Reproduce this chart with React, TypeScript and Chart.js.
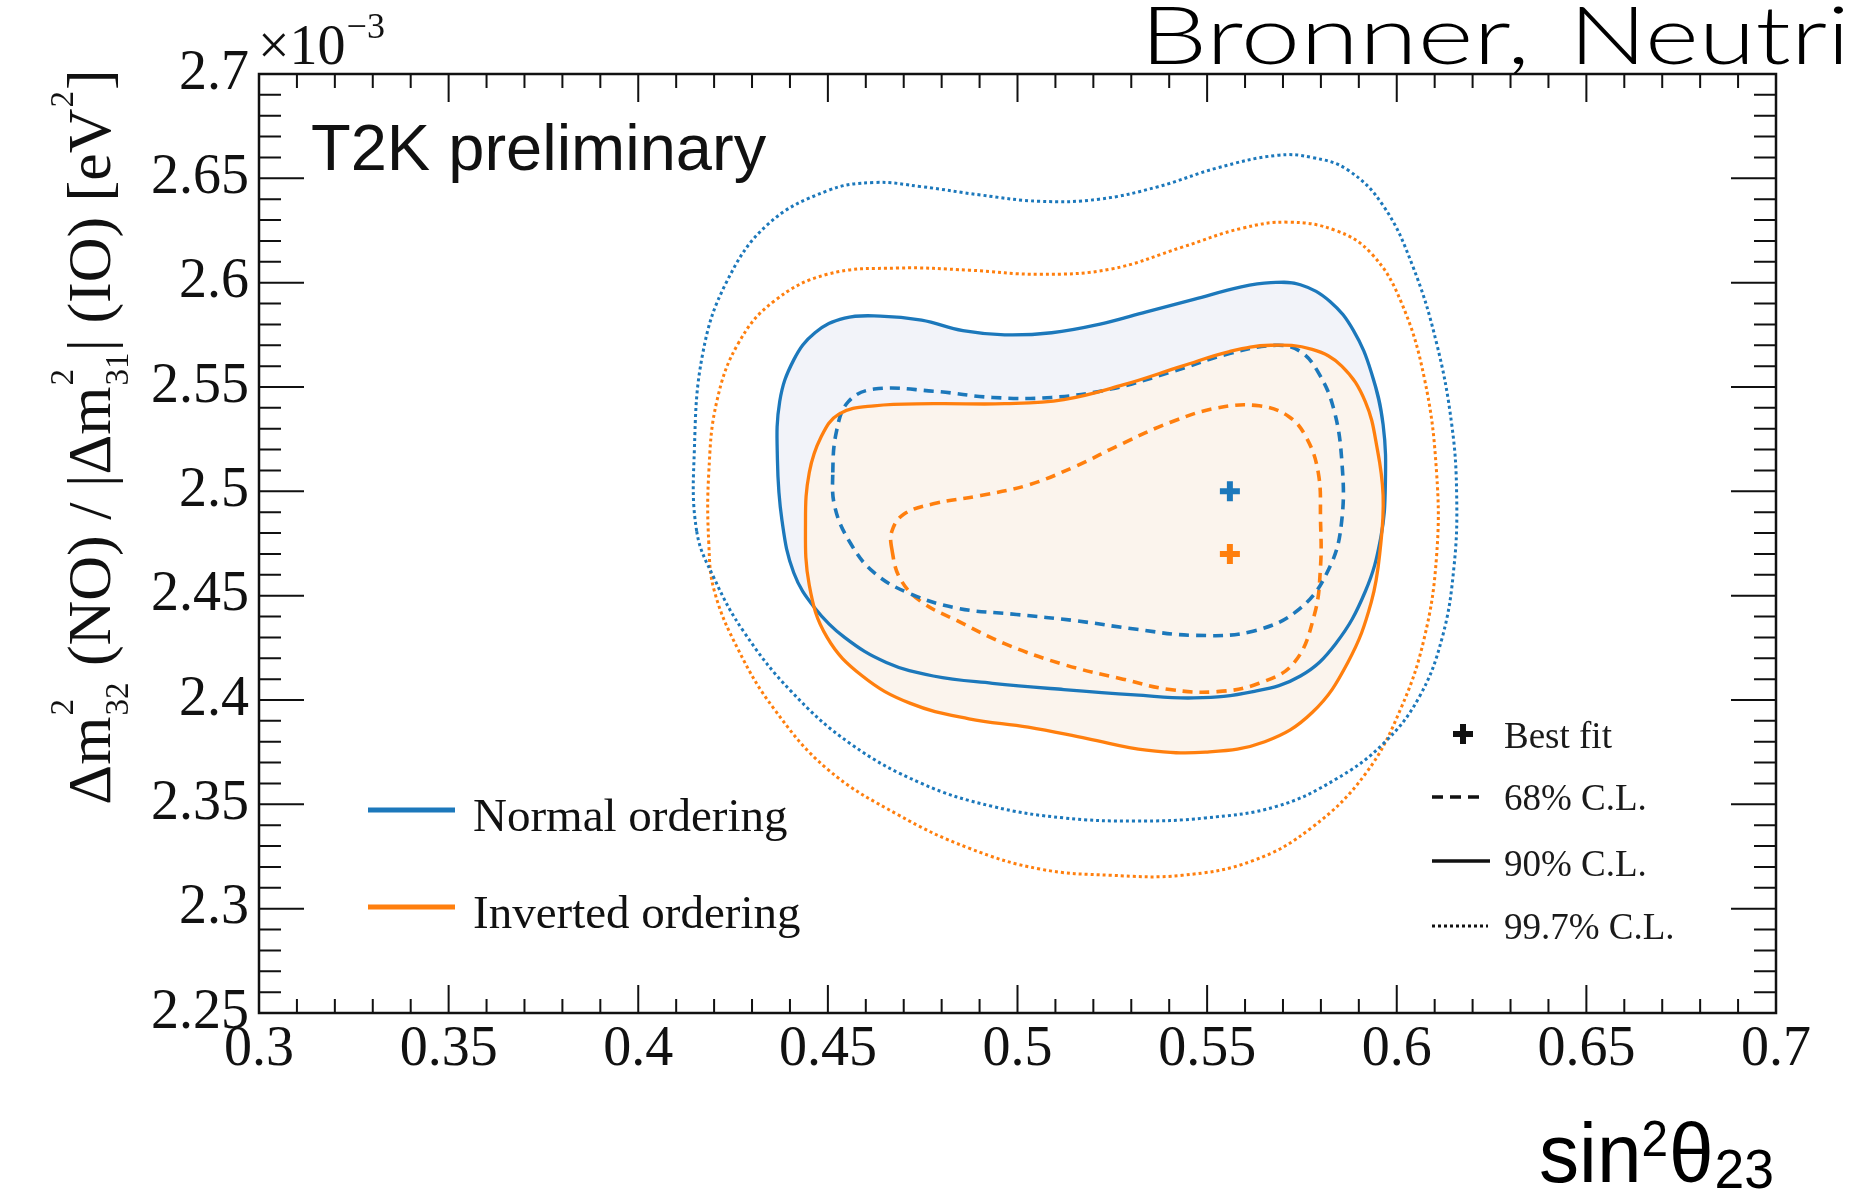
import React, { useEffect, useRef } from 'react';
import { Chart, registerables } from 'chart.js';

Chart.register(...registerables);

const W = 1854;
const H = 1194;
const BLUE = '#1c78bb';
const ORANGE = '#ff7f0e';
const BLUE_FILL = '#f2f3f9';
const ORANGE_FILL = '#fbf4ed';
const INK = '#111111';

// Axis ranges and tick labels (y in units of 1e-3 eV^2)
const X_MIN = 0.3;
const X_MAX = 0.7;
const Y_MIN = 2.25;
const Y_MAX = 2.7;
const X_TICKS = [0.3, 0.35, 0.4, 0.45, 0.5, 0.55, 0.6, 0.65, 0.7];
const X_TICK_LABELS = ['0.3', '0.35', '0.4', '0.45', '0.5', '0.55', '0.6', '0.65', '0.7'];
const Y_TICKS = [2.25, 2.3, 2.35, 2.4, 2.45, 2.5, 2.55, 2.6, 2.65, 2.7];
const Y_TICK_LABELS = ['2.25', '2.3', '2.35', '2.4', '2.45', '2.5', '2.55', '2.6', '2.65', '2.7'];
const X_MINOR_STEP = 0.01;
const Y_MINOR_STEP = 0.01;

// Normal ordering, 99.7% C.L.
const NO_997_X = [0.4154, 0.4148, 0.4170, 0.4232, 0.4342, 0.4498, 0.4622, 0.4747, 0.4903, 0.5059, 0.5215, 0.5371, 0.5527, 0.5683, 0.5777, 0.5871, 0.5964, 0.6042, 0.6105, 0.6145, 0.6158, 0.6151, 0.6120, 0.6058, 0.5964, 0.5839, 0.5683, 0.5496, 0.5309, 0.5122, 0.4934, 0.4747, 0.4560, 0.4404, 0.4279, 0.4201];
const NO_997_Y = [2.481, 2.520, 2.566, 2.600, 2.628, 2.644, 2.648, 2.646, 2.642, 2.639, 2.640, 2.646, 2.655, 2.661, 2.660, 2.654, 2.637, 2.608, 2.571, 2.532, 2.498, 2.464, 2.430, 2.401, 2.379, 2.362, 2.349, 2.3435, 2.342, 2.3435, 2.349, 2.360, 2.379, 2.404, 2.4325, 2.458];

// Inverted ordering, 99.7% C.L.
const IO_997_X = [0.4186, 0.4186, 0.4207, 0.4264, 0.4357, 0.4498, 0.4685, 0.4872, 0.5059, 0.5246, 0.5434, 0.5590, 0.5714, 0.5839, 0.5933, 0.6011, 0.6073, 0.6105, 0.6105, 0.6073, 0.6011, 0.5917, 0.5777, 0.5621, 0.5434, 0.5246, 0.5059, 0.4872, 0.4685, 0.4498, 0.4357, 0.4264, 0.4201];
const IO_997_Y = [2.475, 2.509, 2.543, 2.571, 2.591, 2.604, 2.607, 2.606, 2.604, 2.6065, 2.617, 2.626, 2.629, 2.625, 2.614, 2.591, 2.554, 2.509, 2.469, 2.430, 2.396, 2.3645, 2.339, 2.323, 2.316, 2.316, 2.319, 2.329, 2.345, 2.367, 2.396, 2.424, 2.452];

// Normal ordering, 90% C.L.
const NO_90_X = [0.4367, 0.4373, 0.4410, 0.4466, 0.4544, 0.4638, 0.4747, 0.4856, 0.4966, 0.5090, 0.5215, 0.5340, 0.5465, 0.5590, 0.5668, 0.5746, 0.5824, 0.5886, 0.5933, 0.5964, 0.5970, 0.5958, 0.5917, 0.5839, 0.5746, 0.5621, 0.5465, 0.5309, 0.5122, 0.4934, 0.4778, 0.4654, 0.4544, 0.4466, 0.4410, 0.4379];
const NO_90_Y = [2.515, 2.543, 2.563, 2.576, 2.583, 2.584, 2.582, 2.577, 2.575, 2.576, 2.580, 2.586, 2.592, 2.598, 2.600, 2.599, 2.591, 2.577, 2.557, 2.532, 2.503, 2.478, 2.452, 2.427, 2.4115, 2.404, 2.401, 2.4025, 2.405, 2.408, 2.4115, 2.418, 2.430, 2.444, 2.461, 2.486];

// Inverted ordering, 90% C.L.
const IO_90_X = [0.4441, 0.4451, 0.4482, 0.4529, 0.4622, 0.4778, 0.4966, 0.5122, 0.5278, 0.5434, 0.5559, 0.5668, 0.5777, 0.5855, 0.5917, 0.5949, 0.5964, 0.5958, 0.5933, 0.5871, 0.5777, 0.5652, 0.5496, 0.5340, 0.5184, 0.5028, 0.4872, 0.4716, 0.4591, 0.4498, 0.4451];
const IO_90_Y = [2.486, 2.509, 2.526, 2.537, 2.541, 2.542, 2.542, 2.544, 2.551, 2.560, 2.567, 2.570, 2.568, 2.560, 2.543, 2.520, 2.498, 2.475, 2.447, 2.418, 2.394, 2.380, 2.375, 2.376, 2.3815, 2.387, 2.391, 2.3985, 2.4115, 2.430, 2.455];

// Normal ordering, 68% C.L.
const NO_68_X = [0.4513, 0.4523, 0.4554, 0.4622, 0.4778, 0.4934, 0.5090, 0.5246, 0.5402, 0.5559, 0.5683, 0.5746, 0.5793, 0.5833, 0.5855, 0.5855, 0.5824, 0.5746, 0.5621, 0.5465, 0.5309, 0.5153, 0.4997, 0.4841, 0.4716, 0.4622, 0.4560, 0.4519];
const NO_68_Y = [2.509, 2.529, 2.543, 2.549, 2.548, 2.545, 2.545, 2.549, 2.557, 2.566, 2.570, 2.567, 2.557, 2.540, 2.515, 2.486, 2.464, 2.444, 2.433, 2.431, 2.434, 2.438, 2.441, 2.444, 2.451, 2.461, 2.475, 2.492];

// Inverted ordering, 68% C.L.
const IO_68_X = [0.4669, 0.4669, 0.4700, 0.4778, 0.4903, 0.5028, 0.5153, 0.5278, 0.5402, 0.5527, 0.5637, 0.5714, 0.5761, 0.5793, 0.5799, 0.5799, 0.5783, 0.5730, 0.5637, 0.5527, 0.5402, 0.5278, 0.5122, 0.4966, 0.4841, 0.4747, 0.4691];
const IO_68_Y = [2.472, 2.481, 2.489, 2.494, 2.498, 2.503, 2.512, 2.523, 2.533, 2.540, 2.541, 2.536, 2.526, 2.509, 2.486, 2.464, 2.441, 2.418, 2.408, 2.404, 2.405, 2.410, 2.417, 2.427, 2.438, 2.447, 2.458];

// Best fit points
const BEST_NO = { x: 0.556, y: 2.5 };
const BEST_IO = { x: 0.556, y: 2.47 };

const SERIF = '"Liberation Serif", "Times New Roman", serif';
const SANS = '"Liberation Sans", Arial, sans-serif';
const HIDDEN = 'rgba(0,0,0,0)';

// Closed contour: wrap one point on each side so the spline is smooth at the seam;
// the two wrap-around segments are hidden through the segment styling.
function closedLoop(xs: number[], ys: number[]) {
  const pts = xs.map((x, i) => ({ x, y: ys[i] }));
  const n = pts.length;
  return [pts[n - 1], ...pts, pts[0], pts[1]].map((p) => ({ ...p }));
}

function loopSegment(len: number) {
  return {
    borderColor: (c: any) => (c.p0DataIndex === 0 || c.p1DataIndex === len - 1 ? HIDDEN : undefined),
  };
}

function drawYTitle(ctx: CanvasRenderingContext2D) {
  const main = `62px ${SERIF}`;
  const small = `33px ${SERIF}`;
  const parts: { t?: string; sup?: string; sub?: string }[] = [
    { t: '\u0394m' }, { sup: '2', sub: '32' }, { t: ' (NO) / |\u0394m' }, { sup: '2', sub: '31' },
    { t: '| (IO) [eV' }, { sup: '2' }, { t: ']' },
  ];
  const widths = parts.map((p) => {
    if (p.t) { ctx.font = main; return ctx.measureText(p.t).width; }
    ctx.font = small;
    return Math.max(p.sup ? ctx.measureText(p.sup).width : 0, p.sub ? ctx.measureText(p.sub).width : 0) + 2;
  });
  const total = widths.reduce((a, b) => a + b, 0);
  ctx.save();
  ctx.translate(110, 437);
  ctx.rotate(-Math.PI / 2);
  ctx.fillStyle = INK;
  ctx.textAlign = 'left';
  ctx.textBaseline = 'alphabetic';
  let cx = -total / 2;
  parts.forEach((p, i) => {
    if (p.t) { ctx.font = main; ctx.fillText(p.t, cx, 0); }
    else {
      ctx.font = small;
      if (p.sup) ctx.fillText(p.sup, cx + 1, -37);
      if (p.sub) ctx.fillText(p.sub, cx + 1, 18);
    }
    cx += widths[i];
  });
  ctx.restore();
}

function drawPlus(ctx: CanvasRenderingContext2D, x: number, y: number, r: number, color: string, lw: number) {
  ctx.save();
  ctx.strokeStyle = color;
  ctx.lineWidth = lw;
  ctx.beginPath();
  ctx.moveTo(x - r, y); ctx.lineTo(x + r, y);
  ctx.moveTo(x, y - r); ctx.lineTo(x, y + r);
  ctx.stroke();
  ctx.restore();
}

function fitText(ctx: CanvasRenderingContext2D, text: string, x: number, y: number, width: number) {
  const w = ctx.measureText(text).width;
  ctx.save();
  ctx.translate(x, y);
  ctx.scale(width / w, 1);
  ctx.fillText(text, 0, 0);
  ctx.restore();
}

const decorPlugin = {
  id: 'decor',
  afterDraw(chart: any) {
    const { ctx, chartArea: a } = chart;
    const xs = chart.scales.x;
    const ys = chart.scales.y;
    ctx.save();

    // frame
    ctx.strokeStyle = INK;
    ctx.lineWidth = 2.5;
    ctx.strokeRect(a.left, a.top, a.right - a.left, a.bottom - a.top);

    // inward ticks on all four sides
    ctx.lineWidth = 2;
    ctx.beginPath();
    const nx = Math.round((X_MAX - X_MIN) / X_MINOR_STEP);
    for (let i = 0; i <= nx; i++) {
      const px = xs.getPixelForValue(X_MIN + i * X_MINOR_STEP);
      const len = i % 5 === 0 ? 28 : 14;
      ctx.moveTo(px, a.bottom); ctx.lineTo(px, a.bottom - len);
      ctx.moveTo(px, a.top); ctx.lineTo(px, a.top + len);
    }
    const ny = Math.round((Y_MAX - Y_MIN) / Y_MINOR_STEP);
    for (let i = 0; i <= ny; i++) {
      const py = ys.getPixelForValue(Y_MIN + i * Y_MINOR_STEP);
      const len = i % 5 === 0 ? 45 : 22;
      ctx.moveTo(a.left, py); ctx.lineTo(a.left + len, py);
      ctx.moveTo(a.right, py); ctx.lineTo(a.right - len, py);
    }
    ctx.stroke();

    // exponent x10^-3
    ctx.fillStyle = INK;
    ctx.textAlign = 'left';
    ctx.textBaseline = 'alphabetic';
    ctx.font = `56px ${SERIF}`;
    ctx.fillText('\u00d710', a.left - 1, 64);
    const w10 = ctx.measureText('\u00d710').width;
    ctx.font = `36px ${SERIF}`;
    ctx.fillText('\u22123', a.left + w10, 38);

    // y-axis title
    drawYTitle(ctx);

    // T2K preliminary
    ctx.fillStyle = INK;
    ctx.font = `65px ${SANS}`;
    ctx.textAlign = 'left';
    ctx.fillText('T2K preliminary', 311, 170);

    // ordering legend
    ctx.lineWidth = 5;
    ctx.strokeStyle = BLUE;
    ctx.beginPath(); ctx.moveTo(368, 810); ctx.lineTo(455, 810); ctx.stroke();
    ctx.strokeStyle = ORANGE;
    ctx.beginPath(); ctx.moveTo(368, 907); ctx.lineTo(455, 907); ctx.stroke();
    ctx.fillStyle = INK;
    ctx.font = `47px ${SERIF}`;
    ctx.fillText('Normal ordering', 473, 831);
    ctx.fillText('Inverted ordering', 473, 928);

    // C.L. legend
    drawPlus(ctx, 1463, 734, 10, INK, 6);
    ctx.strokeStyle = INK;
    ctx.lineWidth = 3.5;
    ctx.setLineDash([11, 7]);
    ctx.beginPath(); ctx.moveTo(1432, 797); ctx.lineTo(1484, 797); ctx.stroke();
    ctx.setLineDash([]);
    ctx.beginPath(); ctx.moveTo(1432, 861); ctx.lineTo(1490, 861); ctx.stroke();
    ctx.lineWidth = 3;
    ctx.setLineDash([3, 3]);
    ctx.beginPath(); ctx.moveTo(1432, 926); ctx.lineTo(1488, 926); ctx.stroke();
    ctx.setLineDash([]);
    ctx.fillStyle = '#1a1a1a';
    ctx.font = `37px ${SERIF}`;
    ctx.fillText('Best fit', 1504, 748);
    ctx.fillText('68% C.L.', 1504, 810);
    ctx.fillText('90% C.L.', 1504, 876);
    ctx.fillText('99.7% C.L.', 1504, 939);

    // slide header (runs to the right edge)
    ctx.fillStyle = '#000';
    ctx.font = `300 80px Lato, "Open Sans", sans-serif`;
    fitText(ctx, 'Bronner,', 1140, 64, 390);
    fitText(ctx, 'Neutri', 1569, 64, 281);

    // x-axis title sin^2 theta_23
    const mainF = `84px ${SANS}`;
    const supF = `50px ${SANS}`;
    const subF = `56px ${SANS}`;
    ctx.font = mainF; const wSin = ctx.measureText('sin').width; const wTh = ctx.measureText('\u03b8').width;
    ctx.font = supF; const wSup = ctx.measureText('2').width;
    ctx.font = subF; const wSub = ctx.measureText('23').width;
    const totalW = wSin + wSup + wTh + wSub + 2;
    const s2 = 235 / totalW;
    ctx.save();
    ctx.translate(1539, 1182);
    ctx.scale(s2, 1);
    let cx = 0;
    ctx.font = mainF; ctx.fillText('sin', cx, 0); cx += wSin;
    ctx.font = supF; ctx.fillText('2', cx, -26); cx += wSup + 1;
    ctx.font = mainF; ctx.fillText('\u03b8', cx, 0); cx += wTh + 1;
    ctx.font = subF; ctx.fillText('23', cx, 6);
    ctx.restore();

    ctx.restore();
  },
};

export default function App() {
  const ref = useRef<HTMLCanvasElement | null>(null);

  useEffect(() => {
    if (!ref.current) return;
    const lineBase = { pointRadius: 0, pointHoverRadius: 0, tension: 0.4, showLine: true, fill: false };
    const contour = (label: string, xs: number[], ys: number[], extra: any) => {
      const data = closedLoop(xs, ys);
      return { ...lineBase, label, data, segment: loopSegment(data.length), ...extra };
    };
    const chart = new Chart(ref.current, {
      type: 'scatter',
      data: {
        datasets: [
          contour('IO 90% C.L.', IO_90_X, IO_90_Y, { borderColor: ORANGE, borderWidth: 3.3, fill: 'shape', backgroundColor: ORANGE_FILL }),
          contour('NO 90% C.L.', NO_90_X, NO_90_Y, { borderColor: BLUE, borderWidth: 3.3, fill: 'shape', backgroundColor: BLUE_FILL }),
          contour('NO 68% C.L.', NO_68_X, NO_68_Y, { borderColor: BLUE, borderWidth: 3.6, borderDash: [10, 7] }),
          contour('IO 68% C.L.', IO_68_X, IO_68_Y, { borderColor: ORANGE, borderWidth: 3.6, borderDash: [10, 7] }),
          contour('NO 99.7% C.L.', NO_997_X, NO_997_Y, { borderColor: BLUE, borderWidth: 3, borderDash: [3, 3] }),
          contour('IO 99.7% C.L.', IO_997_X, IO_997_Y, { borderColor: ORANGE, borderWidth: 3, borderDash: [3, 3] }),
          { label: 'NO best fit', data: [BEST_NO], showLine: false, pointStyle: 'cross', pointRadius: 10, pointBorderWidth: 6, borderColor: BLUE, backgroundColor: BLUE },
          { label: 'IO best fit', data: [BEST_IO], showLine: false, pointStyle: 'cross', pointRadius: 10, pointBorderWidth: 6, borderColor: ORANGE, backgroundColor: ORANGE },
        ] as any,
      },
      options: {
        responsive: false,
        animation: false,
        devicePixelRatio: 1,
        layout: { padding: { left: 0, right: 78, top: 74, bottom: 0 } },
        plugins: {
          legend: { display: false },
          tooltip: { enabled: false },
          filler: { drawTime: 'beforeDatasetsDraw', propagate: false },
        } as any,
        scales: {
          x: {
            type: 'linear',
            min: X_MIN,
            max: X_MAX,
            grid: { display: false, drawTicks: false },
            border: { display: false },
            afterBuildTicks: (s: any) => { s.ticks = X_TICKS.map((v) => ({ value: v })); },
            afterFit: (s: any) => { s.height = 181; },
            ticks: {
              autoSkip: false,
              maxRotation: 0,
              padding: 4,
              color: INK,
              font: { family: SERIF, size: 56 },
              callback: (_v: any, i: number) => X_TICK_LABELS[i],
            },
          },
          y: {
            type: 'linear',
            min: Y_MIN,
            max: Y_MAX,
            grid: { display: false, drawTicks: false },
            border: { display: false },
            afterBuildTicks: (s: any) => { s.ticks = Y_TICKS.map((v) => ({ value: v })); },
            afterFit: (s: any) => { s.width = 259; },
            ticks: {
              autoSkip: false,
              padding: 10,
              color: INK,
              font: { family: SERIF, size: 56 },
              callback: (_v: any, i: number) => Y_TICK_LABELS[i],
            },
          },
        } as any,
      },
      plugins: [decorPlugin],
    });
    return () => chart.destroy();
  }, []);

  return (
    <div style={{ position: 'absolute', left: 0, top: 0, width: W, height: H, background: '#fff' }}>
      <canvas ref={ref} width={W} height={H} style={{ display: 'block', width: W, height: H }} />
    </div>
  );
}
